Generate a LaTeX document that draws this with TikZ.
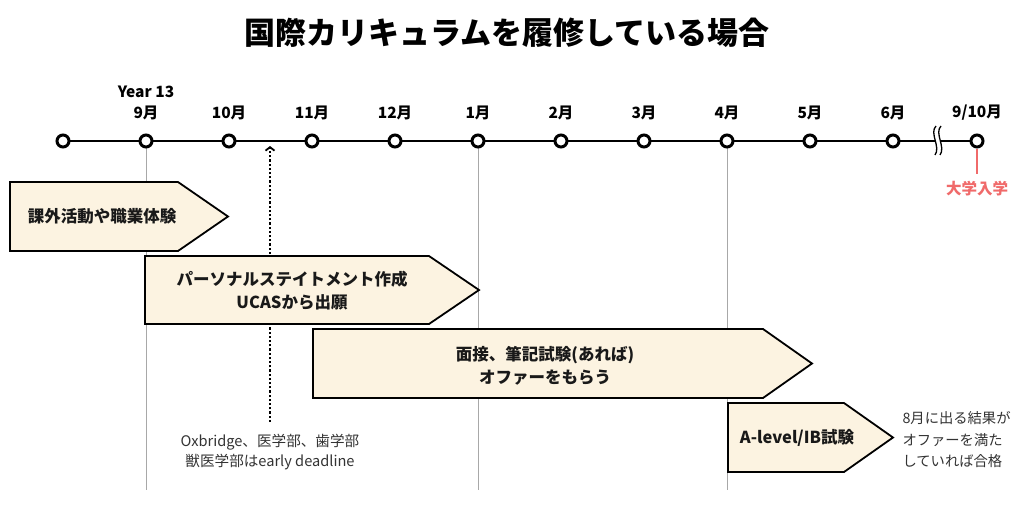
\documentclass[tikz,border=0pt]{standalone}
\usepackage{fontspec}
\setmainfont{Noto Sans CJK JP}
\usetikzlibrary{arrows.meta}
\definecolor{boxfill}{HTML}{FCF3E1}
\definecolor{redc}{HTML}{F06A6A}
\definecolor{txtgray}{HTML}{333333}
\definecolor{lgray}{HTML}{A8A8A8}
\tikzset{
  pent/.style={draw=black, line width=1.8pt, fill=boxfill, line join=miter},
  tlcirc/.style={circle, draw=black, line width=3pt, fill=white, minimum size=12pt, inner sep=0pt},
  month/.style={font=\fontsize{15.5}{18}\selectfont\bfseries, text=black},
  boxtext/.style={font=\fontsize{16.5}{23}\selectfont\bfseries, align=center, text=black!90},
  note/.style={font=\fontsize{14.6}{20}\selectfont, text=txtgray},
  gline/.style={draw=lgray, line width=1pt},
}
\begin{document}
\begin{tikzpicture}[x=1pt,y=-1pt]
\useasboundingbox (0,0) rectangle (1024,517);
\fill[white] (0,0) rectangle (1024,517);

% title
\node (title) at (507,33) {\fontsize{31}{36}\selectfont\bfseries 国際カリキュラムを履修している場合};

% timeline coordinates
\coordinate (p0) at (63,141);
\coordinate (p9) at (146,141);
\coordinate (p10) at (229,141);
\coordinate (p11) at (312,141);
\coordinate (p12) at (395,141);
\coordinate (p1) at (478,141);
\coordinate (p2) at (561,141);
\coordinate (p3) at (644,141);
\coordinate (p4) at (727,141);
\coordinate (p5) at (810,141);
\coordinate (p6) at (893,141);
\coordinate (pe) at (977,141);

% gray guide lines
\coordinate (g9) at (146,490);
\coordinate (g1) at (478,490);
\coordinate (g4) at (727,490);
\draw[gline] (p9) -- (g9);
\draw[gline] (p1) -- (g1);
\draw[gline] (p4) -- (g4);

% main line
\draw[line width=2.6pt] (p0) -- (pe);

% break mark
\fill[white] (936,126) .. controls (929,133) and (941,147) .. (935,155) -- (940,155) .. controls (946,147) and (934,133) .. (941,126) -- cycle;
\draw[line width=1.3pt] (936,126) .. controls (929,133) and (941,147) .. (935,155);
\draw[line width=1.3pt] (941,126) .. controls (934,133) and (946,147) .. (940,155);

% circles
\foreach \n in {p0,p9,p10,p11,p12,p1,p2,p3,p4,p5,p6,pe}
  \node[tlcirc] (c\n) at (\n) {};

% month labels
\node[month] (year) at (146,92) {Year 13};
\node[month] (l9) at (146,113) {9月};
\node[month] (l10) at (229,113) {10月};
\node[month] (l11) at (312,113) {11月};
\node[month] (l12) at (395,113) {12月};
\node[month] (l1) at (478,113) {1月};
\node[month] (l2) at (561,113) {2月};
\node[month] (l3) at (644,113) {3月};
\node[month] (l4) at (727,113) {4月};
\node[month] (l5) at (810,113) {5月};
\node[month] (l6) at (893,113) {6月};
\node[month] (le) at (977,113) {9/10月};

% university entry
\node[font=\fontsize{15.5}{18}\selectfont\bfseries, text=redc] (uni) at (977,189) {大学入学};
\draw[redc, line width=1.2pt] (cpe.south) -- (977,174);

% dotted arrow
\coordinate (dbot) at (270,422);
\coordinate (dtop) at (270,146);
\draw[line width=2.6pt, dash pattern=on 2.2pt off 2pt, -{Straight Barb[length=3.5pt,width=9pt,line width=1.8pt]}] (dbot) -- (dtop);

% boxes
\draw[pent] (10,182) -- (178,182) -- (228,216.5) -- (178,251) -- (10,251) -- cycle;
\draw[pent] (145,256) -- (429,256) -- (479,290) -- (429,324) -- (145,324) -- cycle;
\draw[pent] (313,329) -- (763,329) -- (812,363.5) -- (763,398) -- (313,398) -- cycle;
\draw[pent] (728,403) -- (844,403) -- (893,437.5) -- (844,472) -- (728,472) -- cycle;

\node[boxtext] (t1) at (102,216) {課外活動や職業体験};
\node[boxtext] (t2) at (292,290.5) {パーソナルステイトメント作成\\UCASから出願};
\node[boxtext] (t3) at (545,366) {面接、筆記試験(あれば)\\オファーをもらう};
\node[boxtext] (t4) at (797,437.5) {A-level/IB試験};

% notes
\node[note, align=center] (n1) at (270,452) {Oxbridge、医学部、歯学部\\獣医学部はearly deadline};
\node[note, align=left, anchor=west, font=\fontsize{14.3}{21.5}\selectfont] (n2) at (899,440) {8月に出る結果が\\オファーを満た\\していれば合格};
\end{tikzpicture}
\end{document}
